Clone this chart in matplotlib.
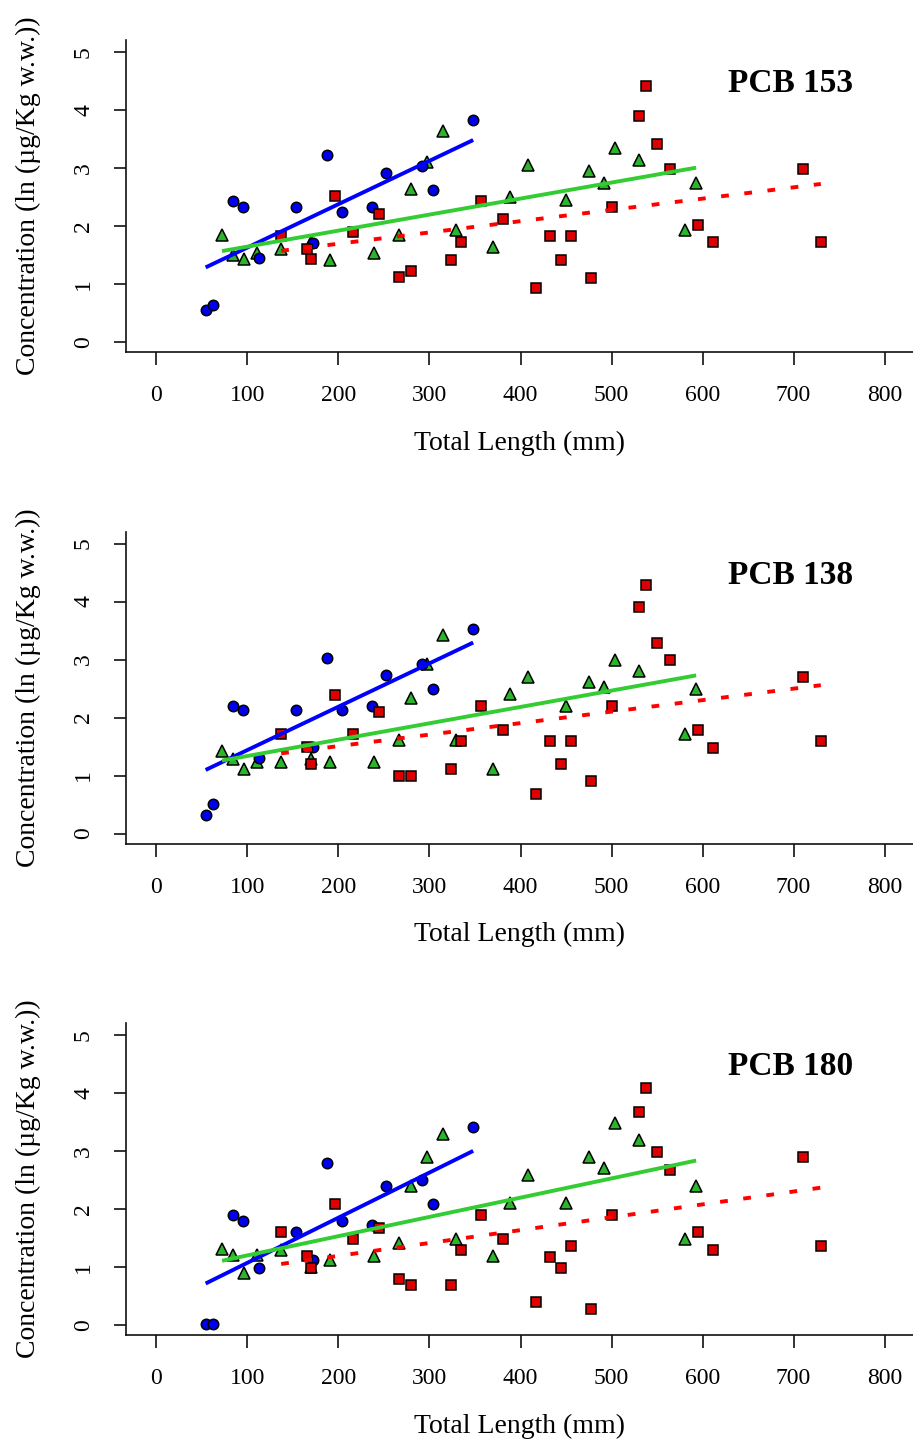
import numpy as np
import matplotlib
matplotlib.use("Agg")
import matplotlib.pyplot as plt

plt.rcParams['font.family'] = ['Liberation Serif', 'DejaVu Serif']

# ---------------- data ----------------
titles = ["PCB 153", "PCB 138", "PCB 180"]
x_ticks = [0, 100, 200, 300, 400, 500, 600, 700, 800]
y_ticks = [0, 1, 2, 3, 4, 5]

# total length (mm) of each group
blue_x = [54, 62, 84, 95, 113, 153, 172, 187, 204, 237, 252, 292, 304, 348]
green_x = [72, 84, 96, 110, 137, 170, 191, 239, 266, 280, 297, 315, 329, 370,
           388, 408, 450, 475, 492, 504, 530, 581, 593]
red_x = [137, 165, 170, 196, 216, 245, 266, 280, 324, 335, 357, 381, 417, 432,
         445, 456, 478, 501, 530, 538, 550, 564, 595, 612, 710, 730]

# concentrations, one list per panel
blue_153 = [0.55, 0.63, 2.43, 2.32, 1.44, 2.32, 1.71, 3.22, 2.25, 2.32, 2.92, 3.03, 2.62, 3.83]
blue_138 = [0.32, 0.51, 2.20, 2.13, 1.31, 2.13, 1.49, 3.03, 2.13, 2.20, 2.73, 2.93, 2.50, 3.52]
blue_180 = [0.02, 0.02, 1.90, 1.79, 0.99, 1.60, 1.12, 2.80, 1.79, 1.72, 2.40, 2.50, 2.09, 3.41]

green_153 = [1.84, 1.50, 1.43, 1.53, 1.61, 1.72, 1.41, 1.54, 1.84, 2.63, 3.11, 3.63, 1.93,
             1.64, 2.50, 3.05, 2.45, 2.94, 2.75, 3.34, 3.13, 1.93, 2.75]
green_138 = [1.42, 1.29, 1.12, 1.23, 1.23, 1.29, 1.23, 1.23, 1.61, 2.33, 2.93, 3.42, 1.61,
             1.12, 2.40, 2.70, 2.20, 2.61, 2.53, 2.99, 2.80, 1.71, 2.50]
green_180 = [1.31, 1.21, 0.89, 1.20, 1.30, 1.00, 1.12, 1.19, 1.41, 2.40, 2.89, 3.30, 1.49,
             1.19, 2.10, 2.59, 2.10, 2.89, 2.70, 3.49, 3.19, 1.49, 2.40]

red_153 = [1.82, 1.60, 1.43, 2.51, 1.90, 2.21, 1.12, 1.23, 1.41, 1.72, 2.43, 2.12, 0.93,
           1.83, 1.41, 1.83, 1.11, 2.32, 3.90, 4.41, 3.41, 2.99, 2.02, 1.72, 2.99, 1.72]
red_138 = [1.71, 1.50, 1.20, 2.38, 1.71, 2.09, 0.99, 0.99, 1.11, 1.60, 2.20, 1.79, 0.69,
           1.60, 1.19, 1.60, 0.91, 2.20, 3.90, 4.29, 3.29, 2.99, 1.78, 1.48, 2.69, 1.60]
red_180 = [1.60, 1.19, 0.99, 2.09, 1.48, 1.67, 0.79, 0.69, 0.69, 1.29, 1.90, 1.48, 0.39,
           1.18, 0.99, 1.37, 0.28, 1.90, 3.67, 4.08, 2.99, 2.68, 1.60, 1.29, 2.89, 1.37]

# regression lines (intercept, slope) per panel
blue_fit = [(0.883, 0.00747), (0.693, 0.00747), (0.296, 0.007776)]
green_fit = [(1.369, 0.00276), (1.055, 0.002818), (0.869, 0.003317)]
red_fit = [(1.306, 0.001944), (1.111, 0.001981), (0.749, 0.002218)]

blue_y = [blue_153, blue_138, blue_180]
green_y = [green_153, green_138, green_180]
red_y = [red_153, red_138, red_180]

# ---------------- figure ----------------
W, H = 913, 1446
fig = plt.figure(figsize=(W / 100, H / 100), dpi=100)

step = 491.5
for k in range(3):
    top = 40 + step * k
    bot = 352 + step * k
    ax = fig.add_axes([126 / W, 1 - bot / H, (W - 126) / W, (bot - top) / H])
    ax.set_xlim(-33.5, 831.3)
    ax.set_ylim(-0.172, 5.207)
    for s in ['top', 'right']:
        ax.spines[s].set_visible(False)
    for s in ['left', 'bottom']:
        ax.spines[s].set_linewidth(1.2)
        ax.spines[s].set_color('#111111')

    ms = 7.5
    ax.plot(green_x, green_y[k], linestyle='none', marker='^', ms=ms + 1,
            mfc='#2db42d', mec='black', mew=1.1, zorder=3)
    ax.plot(blue_x, blue_y[k], linestyle='none', marker='o', ms=ms,
            mfc='#0000ee', mec='black', mew=1.1, zorder=3)
    ax.plot(red_x, red_y[k], linestyle='none', marker='s', ms=ms - 0.5,
            mfc='#dd0000', mec='black', mew=1.1, zorder=3)

    for xs, fit, col, ls in [(blue_x, blue_fit[k], '#0000ff', '-'),
                             (green_x, green_fit[k], '#33cc33', '-'),
                             (red_x, red_fit[k], '#ff0000', (0, (2, 4)))]:
        xx = np.array([min(xs), max(xs)])
        ax.plot(xx, fit[0] + fit[1] * xx, color=col, lw=2.8, linestyle=ls,
                zorder=4, solid_capstyle='butt')

    ax.set_xticks(x_ticks)
    ax.set_yticks(y_ticks)
    ax.set_xticklabels([str(v) for v in x_ticks])
    ax.set_yticklabels([str(v) for v in y_ticks])
    ax.tick_params(axis='both', length=9, width=1.2, color='#111111',
                   labelsize=17)
    ax.tick_params(axis='x', pad=15)
    ax.tick_params(axis='y', pad=14)
    for lab in ax.get_yticklabels():
        lab.set_rotation(90)
        lab.set_va('center')

    ax.text(697, 4.45, titles[k], ha='center', va='center',
            fontsize=24, fontweight='bold')

    fig.text(519.5 / W, 1 - (443 + step * k) / H, "Total Length (mm)",
             ha='center', va='center', fontsize=20)
    fig.text(28 / W, 1 - (196 + step * k) / H,
             "Concentration (ln (\u00b5g/Kg w.w.))",
             ha='center', va='center', rotation=90, fontsize=20)

fig.savefig("out.png", dpi=100)
